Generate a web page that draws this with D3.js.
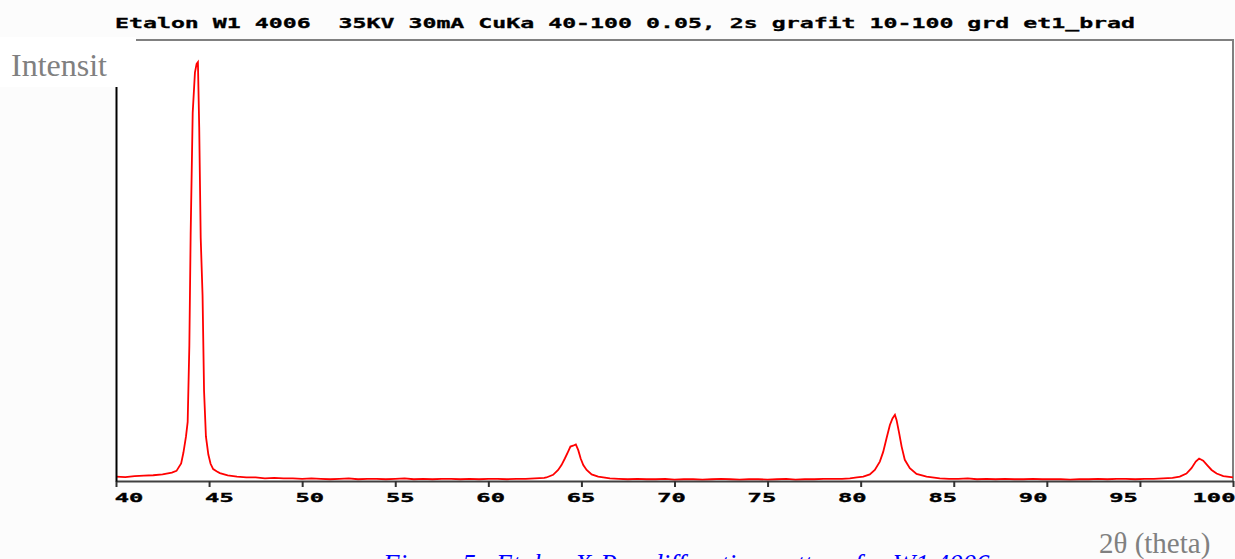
<!DOCTYPE html>
<html><head><meta charset="utf-8">
<script src="https://cdn.jsdelivr.net/npm/d3@7"></script>
<style>html,body{margin:0;padding:0;background:#fff;overflow:hidden}</style>
</head><body>
<script>
// ---- data ----
const twoTheta = [
  40.0, 40.5, 41.0, 41.5, 42.0, 42.5, 43.0, 43.25, 43.5, 43.62, 43.76, 43.85, 43.94, 44.01, 44.12, 44.24, 44.33, 44.40,
  44.47, 44.55, 44.65, 44.73, 44.83, 44.96, 45.08, 45.22, 45.4, 45.58, 46.0, 46.5, 47.0, 47.5, 48.0, 48.5, 49.0, 49.5,
  50.0, 50.5, 51.0, 51.5, 52.0, 52.5, 53.0, 53.5, 54.0, 54.5, 55.0, 55.5, 56.0, 56.5, 57.0, 57.5, 58.0, 58.5, 59.0, 59.5,
  60.0, 60.5, 61.0, 61.5, 62.0, 62.5, 63.0, 63.12, 63.48, 63.75, 63.93, 64.11, 64.28, 64.41, 64.55, 64.7, 64.83, 64.96,
  65.1, 65.28, 65.55, 65.9, 66.53, 67.0, 67.5, 68.0, 68.5, 69.0, 69.5, 70.0, 70.5, 71.0, 71.5, 72.0, 72.5, 73.0, 73.5,
  74.0, 74.5, 75.0, 75.5, 76.0, 76.5, 77.0, 77.5, 78.0, 78.5, 79.0, 79.42, 79.8, 80.14, 80.49, 80.76, 81.03, 81.21, 81.39,
  81.57, 81.71, 81.84, 81.93, 82.07, 82.2, 82.37, 82.64, 83.0, 83.54, 84.25, 84.75, 85.25, 85.75, 86.25, 86.75, 87.25,
  87.75, 88.25, 88.75, 89.25, 89.75, 90.25, 90.75, 91.25, 91.75, 92.25, 92.75, 93.25, 93.75, 94.25, 94.75, 95.25, 95.75,
  96.25, 96.75, 97.14, 97.5, 97.77, 98.0, 98.18, 98.4, 98.61, 98.85, 99.12, 99.48, 100.0
];
const intensity = [
  10, 9, 11, 12, 13, 15, 19, 23, 40, 64, 101, 134, 307, 559, 835, 926, 946, 950,
  802, 551, 420, 204, 101, 60, 39, 27, 22, 18, 13, 10, 8, 8, 6, 7, 6, 6,
  5, 6, 5, 4, 5, 6, 4, 5, 5, 4, 5, 6, 4, 5, 4, 5, 5, 4, 5, 4,
  5, 5, 4, 5, 5, 6, 7, 8, 14, 25, 36, 51, 66, 78, 80, 83, 70, 51,
  36, 25, 15, 10, 6, 5, 4, 5, 4, 4, 5, 3, 4, 4, 3, 4, 5, 4, 3,
  4, 4, 3, 4, 5, 3, 4, 4, 5, 5, 5, 6, 8, 10, 15, 25, 44, 66, 97,
  127, 142, 150, 138, 108, 78, 48, 29, 16, 10, 6, 5, 5, 6, 4, 5, 4,
  5, 4, 4, 5, 4, 4, 4, 3, 4, 4, 5, 4, 5, 5, 4, 5, 5,
  6, 7, 10, 17, 29, 44, 51, 46, 36, 25, 17, 11, 8
];
const xTicks = [40, 45, 50, 55, 60, 65, 70, 75, 80, 85, 90, 95, 100];
const titleText = "Etalon W1 4006  35KV 30mA CuKa 40-100 0.05, 2s grafit 10-100 grd et1_brad";
const yLabel = "Intensit";
const xLabel = "2\u03B8 (theta)";
const caption = "Figure 5.  Etalon X-Ray diffraction pattern for W1 4006";

// ---- drawing ----
const W = 1235, H = 559;
const svg = d3.select("body").append("svg").attr("width", W).attr("height", H);
svg.append("rect").attr("width", W).attr("height", H).attr("fill", "#fcfcfc");

const x = d3.scaleLinear().domain([40, 100]).range([116, 1233]);
const y = d3.scaleLinear().domain([0, 1000]).range([481, 40]);
// tick labels of the original sit on a slightly narrower grid
const xLab = d3.scaleLinear().domain([40, 100]).range([129, 1214]);

svg.append("rect").attr("x", 116).attr("y", 40).attr("width", 1117).attr("height", 441).attr("fill", "#ffffff");

// frame top and right
svg.append("line").attr("x1", x(40)).attr("x2", x(100) + 1).attr("y1", y(1000)).attr("y2", y(1000))
  .attr("stroke", "#808080").attr("stroke-width", 2);
svg.append("line").attr("x1", x(100)).attr("x2", x(100)).attr("y1", y(1000)).attr("y2", y(0))
  .attr("stroke", "#808080").attr("stroke-width", 2);

// spectrum
const pts = twoTheta.map((t, i) => [t, intensity[i]]);
svg.append("path").datum(pts)
  .attr("fill", "none").attr("stroke", "#ff0000").attr("stroke-width", 1.8)
  .attr("stroke-linejoin", "miter")
  .attr("d", d3.line().x(d => x(d[0])).y(d => y(d[1])));

// bottom axis
const gx = svg.append("g").attr("transform", `translate(0,${y(0)})`)
  .call(d3.axisBottom(x).tickValues(xTicks).tickSize(6).tickSizeOuter(0).tickFormat(""));
gx.select(".domain").attr("stroke", "#404040").attr("stroke-width", 2);
gx.selectAll(".tick line").attr("stroke", "#303030").attr("stroke-width", 2);

// left axis
const gy = svg.append("g").attr("transform", `translate(${x(40)},0)`)
  .call(d3.axisLeft(y).tickValues([]).tickSizeOuter(0));
gy.select(".domain").attr("stroke", "#000").attr("stroke-width", 2);

// tick labels (wide bitmap-like font)
const lab = svg.append("g").attr("transform", "scale(1.9,1)");
lab.selectAll("text").data(xTicks).enter().append("text")
  .attr("x", d => xLab(d) / 1.9).attr("y", 502)
  .attr("text-anchor", "middle")
  .attr("font-family", "DejaVu Sans Mono").attr("font-weight", "bold").attr("font-size", 12.5)
  .attr("fill", "#000").attr("stroke", "#000").attr("stroke-width", 0.35)
  .text(d => d);

// title
svg.append("g").attr("transform", "translate(115,28) scale(1.58,1)")
  .append("text").attr("x", 0).attr("y", 0)
  .style("white-space", "pre")
  .attr("font-family", "DejaVu Sans Mono").attr("font-weight", "bold").attr("font-size", 14.7)
  .attr("fill", "#000").attr("stroke", "#000").attr("stroke-width", 0.3)
  .text(titleText);

// Intensit box
svg.append("rect").attr("x", 0).attr("y", 37).attr("width", 136).attr("height", 50).attr("fill", "#ffffff");
svg.append("text").attr("x", 11).attr("y", 76)
  .attr("font-family", "Liberation Serif").attr("font-size", 32).attr("fill", "#808080")
  .text(yLabel);

// x label
svg.append("text").attr("x", 1099).attr("y", 553)
  .attr("font-family", "Liberation Serif").attr("font-size", 29).attr("fill", "#808080")
  .text(xLabel);

// caption (cut by the bottom edge, as in the reference)
svg.append("text").attr("x", 383).attr("y", 573)
  .style("white-space", "pre")
  .attr("font-family", "Liberation Serif").attr("font-style", "italic").attr("font-size", 27)
  .attr("fill", "#0000ff")
  .text(caption);
</script>
</body></html>
